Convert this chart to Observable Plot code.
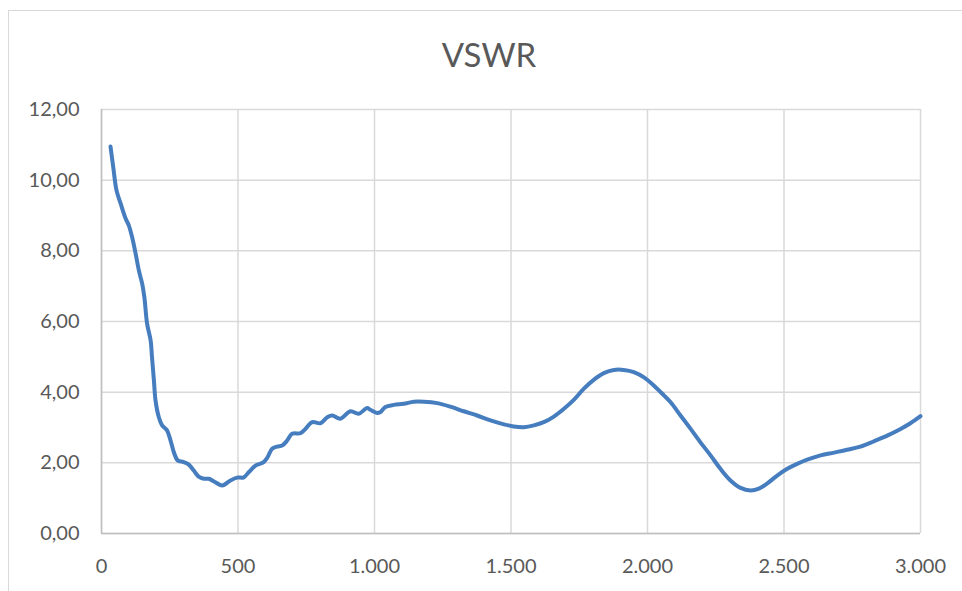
<!DOCTYPE html>
<html>
<head>
<meta charset="utf-8">
<script src="https://cdn.jsdelivr.net/npm/d3@7"></script>
<script src="https://cdn.jsdelivr.net/npm/@observablehq/plot@0.6"></script>
<style>
  html, body { margin: 0; padding: 0; background: #fff; }
  #wrap { position: relative; width: 962px; height: 591px; overflow: hidden; font-family: Lato, "Open Sans", sans-serif; }
  #frame { position: absolute; left: 8px; top: 10px; width: 1200px; height: 900px; border-left: 1.5px solid #d9d9d9; border-top: 1.5px solid #d9d9d9; }
  #title { position: absolute; left: 0; top: 38px; width: 978px; text-align: center; font-size: 33px; line-height: 33px; color: #595959; }
  #chart { position: absolute; left: 0; top: 90px; }
</style>
</head>
<body>
<div id="wrap">
  <div id="frame"></div>
  <div id="title">VSWR</div>
  <div id="chart"></div>
</div>
<script>
const freq = [33,43,55,70,88,100,112,125,137,149,157,167,180,185,192,198,210,222,240,253,265,279,301,320,338,356,375,393,411,442,472,497,521,540,564,594,607,625,643,662,680,698,729,747,772,802,827,845,875,912,942,973,985,1010,1022,1040,1071,1107,1144,1181,1230,1278,1327,1376,1425,1474,1510,1547,1584,1620,1657,1694,1730,1767,1803,1840,1877,1913,1950,1987,2023,2060,2084,2121,2158,2194,2231,2267,2304,2341,2377,2408,2439,2475,2512,2548,2585,2634,2683,2731,2780,2829,2878,2927,2963,3000];
const vswr = [10.95,10.37,9.71,9.34,8.92,8.72,8.39,7.92,7.44,7.07,6.69,5.94,5.46,4.99,4.33,3.76,3.29,3.06,2.92,2.63,2.30,2.07,2.02,1.95,1.78,1.61,1.55,1.55,1.48,1.36,1.50,1.58,1.59,1.74,1.92,2.02,2.14,2.40,2.46,2.49,2.63,2.82,2.84,2.96,3.15,3.12,3.29,3.34,3.25,3.46,3.39,3.55,3.50,3.41,3.44,3.58,3.64,3.67,3.73,3.73,3.69,3.59,3.46,3.34,3.20,3.09,3.03,3.01,3.06,3.15,3.31,3.53,3.78,4.10,4.35,4.54,4.63,4.63,4.57,4.42,4.19,3.91,3.72,3.34,2.96,2.58,2.21,1.83,1.50,1.29,1.22,1.27,1.42,1.64,1.83,1.97,2.09,2.21,2.29,2.37,2.46,2.61,2.77,2.96,3.12,3.32];
const xTicks = [0,500,1000,1500,2000,2500,3000];
const yTicks = [0,2,4,6,8,10,12];

const data = freq.map((f, i) => ({f, v: vswr[i]}));
const loc = d3.formatLocale({decimal: ",", thousands: ".", grouping: [3], currency: ["", ""]});
const fx = loc.format(",");
const fy = loc.format(".2f");

const chart = Plot.plot({
  width: 962,
  height: 501,
  marginTop: 19,
  marginBottom: 58,
  marginLeft: 101,
  marginRight: 42,
  style: {fontFamily: "Lato, 'Open Sans', sans-serif", fontSize: "20px", color: "#595959", background: "transparent", overflow: "visible"},
  x: {domain: [0, 3000]},
  y: {domain: [0, 12]},
  marks: [
    Plot.gridY(yTicks, {stroke: "#d9d9d9", strokeOpacity: 1, strokeWidth: 1.5}),
    Plot.gridX(xTicks, {stroke: "#d9d9d9", strokeOpacity: 1, strokeWidth: 1.5}),
    Plot.ruleY([0], {stroke: "#bfbfbf", strokeWidth: 1.5}),
    Plot.ruleX([0], {stroke: "#bfbfbf", strokeWidth: 1.5}),
    Plot.axisY(yTicks, {tickSize: 0, tickPadding: 22, tickFormat: fy, fill: "#595959", label: null}),
    Plot.axisX(xTicks, {tickSize: 0, tickPadding: 25, tickFormat: fx, fill: "#595959", label: null}),
    Plot.line(data, {x: "f", y: "v", stroke: "#467dbe", strokeWidth: 4, curve: "catmull-rom", strokeLinejoin: "round", strokeLinecap: "round"})
  ]
});
document.getElementById("chart").appendChild(chart);
</script>
</body>
</html>
